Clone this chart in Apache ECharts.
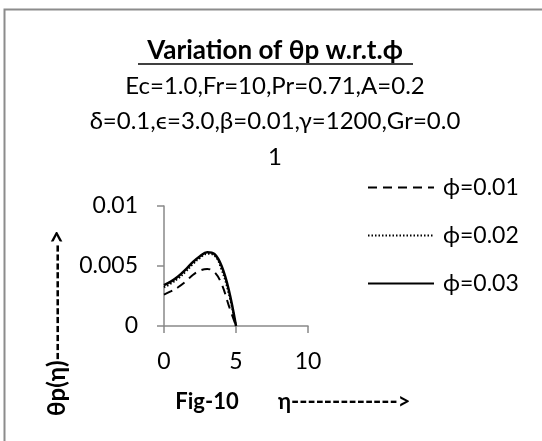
<!DOCTYPE html>
<html>
<head>
<meta charset="utf-8">
<script src="https://cdn.jsdelivr.net/npm/echarts@6/dist/echarts.min.js"></script>
<style>
  html, body { margin: 0; padding: 0; background: #fff; }
  #chart { width: 542px; height: 441px; }
</style>
</head>
<body>
<div id="chart"></div>
<script>
const eta = [0, 0.5, 1, 1.5, 2, 2.5, 3, 3.5, 4, 4.5, 5];
const seriesNames = ['ϕ=0.01', 'ϕ=0.02', 'ϕ=0.03'];
const phi001 = [0.00262, 0.0029, 0.00325, 0.0037, 0.00425, 0.00462, 0.00475, 0.0045, 0.0035, 0.0017, 0];
const phi002 = [0.00322, 0.00355, 0.00398, 0.00452, 0.00515, 0.00568, 0.00602, 0.00588, 0.0047, 0.0027, 0];
const phi003 = [0.0034, 0.00372, 0.00415, 0.0047, 0.00532, 0.00582, 0.00615, 0.006, 0.005, 0.003, 0];
const xTicks = [0, 10, 5];      // min, max, interval
const yTicks = [0, 0.01, 0.005];

const FONT = 'Lato, "Noto Sans", sans-serif';
const chart = echarts.init(document.getElementById('chart'));

function pairs(ys) {
  return eta.map((x, i) => [x, ys[i]]);
}

const lineTypes = [[9, 6], [1.5, 2], 'solid'];
const allData = [phi001, phi002, phi003];

const option = {
  animation: false,
  backgroundColor: '#fff',
  grid: {
    left: 164, top: 206, width: 144, height: 120,
    containLabel: false, outerBoundsMode: 'none'
  },
  xAxis: {
    type: 'value', min: xTicks[0], max: xTicks[1], interval: xTicks[2],
    axisLine: { lineStyle: { color: '#898989', width: 1.5 } },
    axisTick: { show: true, length: 7, lineStyle: { color: '#898989', width: 1.5 } },
    axisLabel: { color: '#000', fontFamily: FONT, fontSize: 23, margin: 24 },
    splitLine: { show: false }
  },
  yAxis: {
    type: 'value', min: yTicks[0], max: yTicks[1], interval: yTicks[2],
    axisLine: { show: true, lineStyle: { color: '#898989', width: 1.5 } },
    axisTick: { show: true, length: 7, lineStyle: { color: '#898989', width: 1.5 } },
    axisLabel: { color: '#000', fontFamily: FONT, fontSize: 23, margin: 26 },
    splitLine: { show: false }
  },
  legend: {
    orient: 'vertical', left: 362, top: 171,
    itemWidth: 66, itemHeight: 14, itemGap: 25,
    itemStyle: { opacity: 0 },
    textStyle: { color: '#000', fontFamily: FONT, fontSize: 23, padding: [0, 0, 0, 4] },
    data: seriesNames
  },
  series: seriesNames.map((name, i) => ({
    name: name,
    type: 'line',
    data: pairs(allData[i]),
    smooth: 0.4,
    symbol: 'none',
    lineStyle: { color: '#000', width: i === 2 ? 2.5 : 2, type: lineTypes[i] },
    itemStyle: { color: '#000' }
  })),
  graphic: [
    { type: 'rect', shape: { x: 4.5, y: 9.5, width: 620, height: 520 },
      style: { fill: null, stroke: '#8c8c8c', lineWidth: 2 } },
    { type: 'text', x: 275, y: 51,
      style: { text: 'Variation of θp w.r.t.ϕ', fontFamily: FONT, fontSize: 26, fontWeight: 'bold',
        fill: '#000', align: 'center', verticalAlign: 'middle' } },
    { type: 'line', shape: { x1: 138, y1: 64, x2: 413, y2: 64 },
      style: { stroke: '#000', lineWidth: 1.5 } },
    { type: 'text', x: 275, y: 86,
      style: { text: 'Ec=1.0,Fr=10,Pr=0.71,A=0.2', fontFamily: FONT, fontSize: 24,
        fill: '#000', align: 'center', verticalAlign: 'middle' } },
    { type: 'text', x: 275, y: 121,
      style: { text: 'δ=0.1,ϵ=3.0,β=0.01,γ=1200,Gr=0.0', fontFamily: FONT, fontSize: 24,
        fill: '#000', align: 'center', verticalAlign: 'middle' } },
    { type: 'text', x: 275, y: 157,
      style: { text: '1', fontFamily: FONT, fontSize: 24,
        fill: '#000', align: 'center', verticalAlign: 'middle' } },
    { type: 'text', x: 57, y: 323, rotation: Math.PI / 2,
      style: { text: 'θp(η)------------->', fontFamily: FONT, fontSize: 24, fontWeight: 'bold',
        fill: '#000', align: 'center', verticalAlign: 'middle' } },
    { type: 'text', x: 207, y: 402,
      style: { text: 'Fig-10', fontFamily: FONT, fontSize: 22, fontWeight: 'bold',
        fill: '#000', align: 'center', verticalAlign: 'middle' } },
    { type: 'text', x: 278, y: 402,
      style: { text: 'η------------->', fontFamily: FONT, fontSize: 22, fontWeight: 'bold',
        fill: '#000', align: 'left', verticalAlign: 'middle' } }
  ]
};

chart.setOption(option);
</script>
</body>
</html>
